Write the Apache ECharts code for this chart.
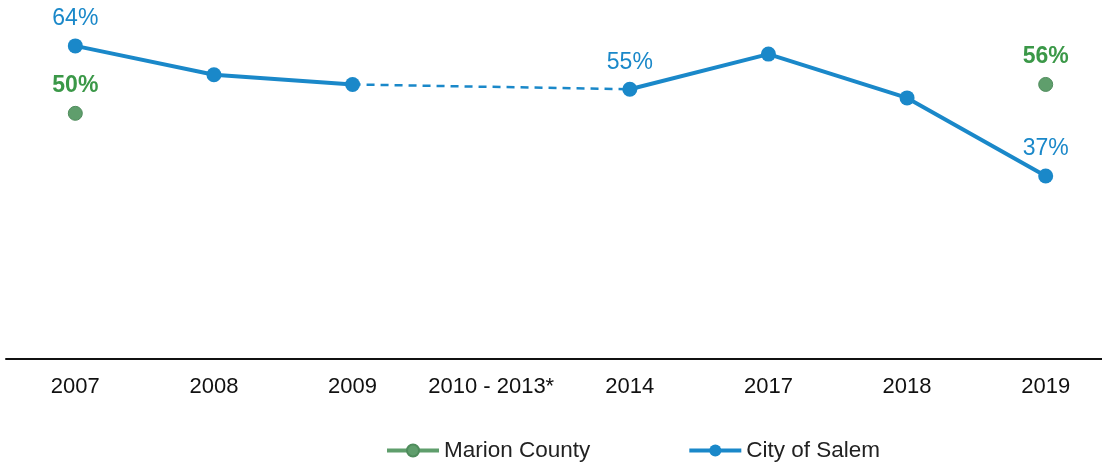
<!DOCTYPE html>
<html>
<head>
<meta charset="utf-8">
<script src="https://cdn.jsdelivr.net/npm/echarts@6/dist/echarts.min.js"></script>
<style>
    html, body { margin: 0; padding: 0; background: #fff; }
    #chart { width: 1102px; height: 466px; }
</style>
</head>
<body>
<div id="chart"></div>
<script>
    const categories = ["2007", "2008", "2009", "2010 - 2013*", "2014", "2017", "2018", "2019"];
    const salem = [64, 58, 56, null, 55, 62.3, 53.2, 37];
    const salemGap = [null, null, 56, null, 55, null, null, null];
    const marion = [50, null, null, null, null, null, null, 56];
    const salemLabelled = [0, 4, 7];

    const BLUE = "#1a88c9";
    const GREEN = "#5f9e6c";
    const GREEN_TEXT = "#3b9848";

    const chart = echarts.init(document.getElementById("chart"));

    const option = {
        animation: false,
        textStyle: { fontFamily: "Liberation Sans, Arial, sans-serif" },
        grid: { left: 6, width: 1109, top: 17, bottom: 107, containLabel: false, outerBoundsMode: "none" },
        legend: {
            bottom: -1,
            left: 380,
            itemWidth: 52,
            itemHeight: 15,
            itemGap: 97,
            lineStyle: { width: 4 },
            textStyle: { fontSize: 22.5, color: "#222" },
            data: ["Marion County", "City of Salem"]
        },
        xAxis: {
            type: "category",
            data: categories,
            boundaryGap: true,
            axisLine: { onZero: false, lineStyle: { color: "#111", width: 2 } },
            axisTick: { show: false },
            axisLabel: { fontSize: 22, color: "#111", margin: 17, interval: 0 }
        },
        yAxis: {
            type: "value",
            min: -1,
            max: 70,
            show: false,
            splitLine: { show: false }
        },
        series: [
            {
                name: "City of Salem gap",
                type: "line",
                data: salemGap,
                connectNulls: true,
                symbol: "none",
                lineStyle: { color: BLUE, width: 2.5, type: [8, 6] },
                z: 1
            },
            {
                name: "City of Salem",
                type: "line",
                data: salem.map((v, i) => ({
                    value: v,
                    label: {
                        show: salemLabelled.includes(i),
                        position: "top",
                        distance: 8,
                        formatter: "{c}%",
                        fontSize: 23,
                        color: BLUE
                    }
                })),
                symbol: "circle",
                symbolSize: 15,
                itemStyle: { color: BLUE },
                lineStyle: { color: BLUE, width: 4 },
                z: 3
            },
            {
                name: "Marion County",
                type: "line",
                data: marion,
                connectNulls: false,
                symbol: "circle",
                symbolSize: 14,
                showAllSymbol: true,
                itemStyle: { color: GREEN, borderColor: "#4f8c5c", borderWidth: 1 },
                lineStyle: { color: GREEN, width: 4 },
                label: {
                    show: true,
                    position: "top",
                    distance: 9,
                    formatter: "{c}%",
                    fontSize: 23,
                    fontWeight: "bold",
                    color: GREEN_TEXT
                },
                z: 2
            }
        ]
    };

    chart.setOption(option);
</script>
</body>
</html>
